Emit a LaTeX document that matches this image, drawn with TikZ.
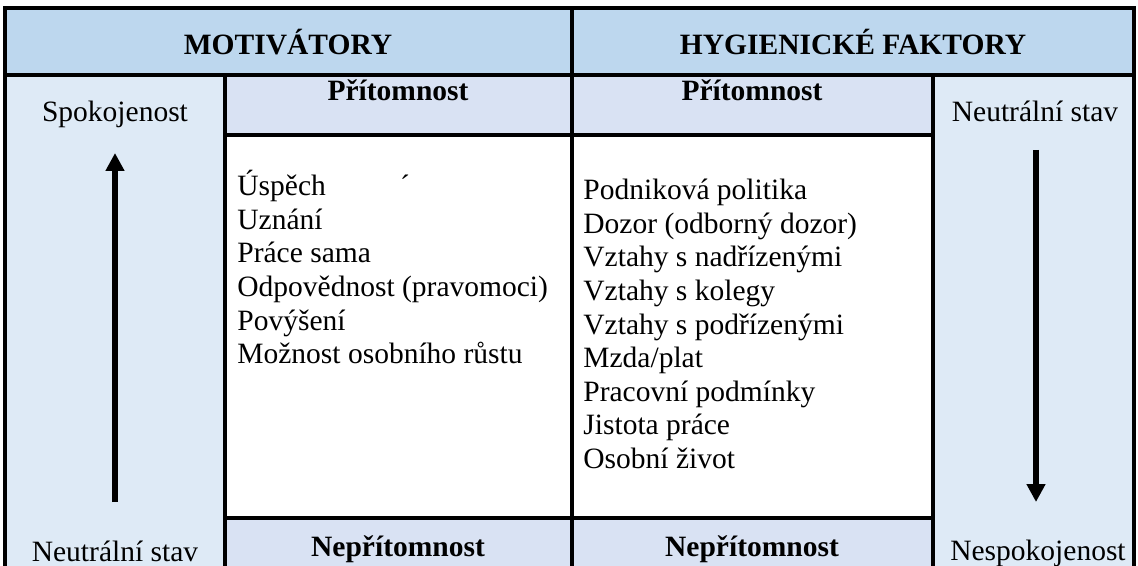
\documentclass[tikz,border=0pt]{standalone}
\usepackage{fontspec}
\setmainfont{Liberation Serif}
\usetikzlibrary{arrows.meta}
\definecolor{hdrblue}{HTML}{BDD7EE}
\definecolor{sideblue}{HTML}{DEEAF6}
\definecolor{subblue}{HTML}{D9E2F3}

\begin{document}
\begin{tikzpicture}[x=0.5pt,y=-0.5pt,
    every node/.style={inner sep=0,anchor=base,font=\fontsize{14.75}{16.75}\selectfont},
    hdr/.style={font=\fontsize{14.75}{16.75}\selectfont\bfseries},
    item/.style={anchor=base west},
    grid/.style={line width=1.6pt},
    arr/.style={line width=3pt,-{Triangle[length=9pt,width=9pt]}}]
  \useasboundingbox (0,0) rectangle (1138,566);
  % cell fills
  \fill[hdrblue] (5,8) rectangle (1134,75);
  \fill[sideblue] (5,75) rectangle (225,566);
  \fill[sideblue] (933,75) rectangle (1134,566);
  \fill[subblue] (225,75) rectangle (933,135);
  \fill[subblue] (225,518) rectangle (933,566);
  % rules
  \draw[grid] (5,566) -- (5,8) -- (1134,8) -- (1134,566);
  \draw[grid] (5,75) -- (1134,75);
  \draw[grid] (572,8) -- (572,566);
  \draw[grid] (225,75) -- (225,566) (933,75) -- (933,566);
  \draw[grid] (225,135) -- (933,135) (225,518) -- (933,518);
  % headings
  \node[hdr] (mot) at (288,55) {MOTIVÁTORY};
  \node[hdr] (hyg) at (853,55) {HYGIENICKÉ FAKTORY};
  \node[hdr] (pritM) at (398,101) {Přítomnost};
  \node[hdr] (pritH) at (752,101) {Přítomnost};
  \node[hdr] (nepM) at (398,556) {Nepřítomnost};
  \node[hdr] (nepH) at (752,556) {Nepřítomnost};
  % side columns
  \node (spok) at (115,122) {Spokojenost};
  \node (neutL) at (115,561) {Neutrální stav};
  \node (neutR) at (1035,122) {Neutrální stav};
  \node (nespok) at (1038,560) {Nespokojenost};
  \coordinate (lowL) at (115,502);
  \coordinate (topL) at (115,153);
  \coordinate (topR) at (1036,150);
  \coordinate (lowR) at (1036,502);
  \draw[arr] (lowL) -- (topL);
  \draw[arr] (topR) -- (lowR);
  % lists
  \foreach \t [count=\i from 0] in {Úspěch,Uznání,Práce sama,
      Odpovědnost (pravomoci),Povýšení,Možnost osobního růstu}
    \node[item] (m\i) at (237,196+33.5*\i) {\t};
  \node (acc) at (405,196) {´};
  \foreach \t [count=\i from 0] in {Podniková politika,Dozor (odborný dozor),
      Vztahy s nadřízenými,Vztahy s kolegy,Vztahy s podřízenými,Mzda/plat,
      Pracovní podmínky,Jistota práce,Osobní život}
    \node[item] (h\i) at (583,200+33.5*\i) {\t};
\end{tikzpicture}
\end{document}
